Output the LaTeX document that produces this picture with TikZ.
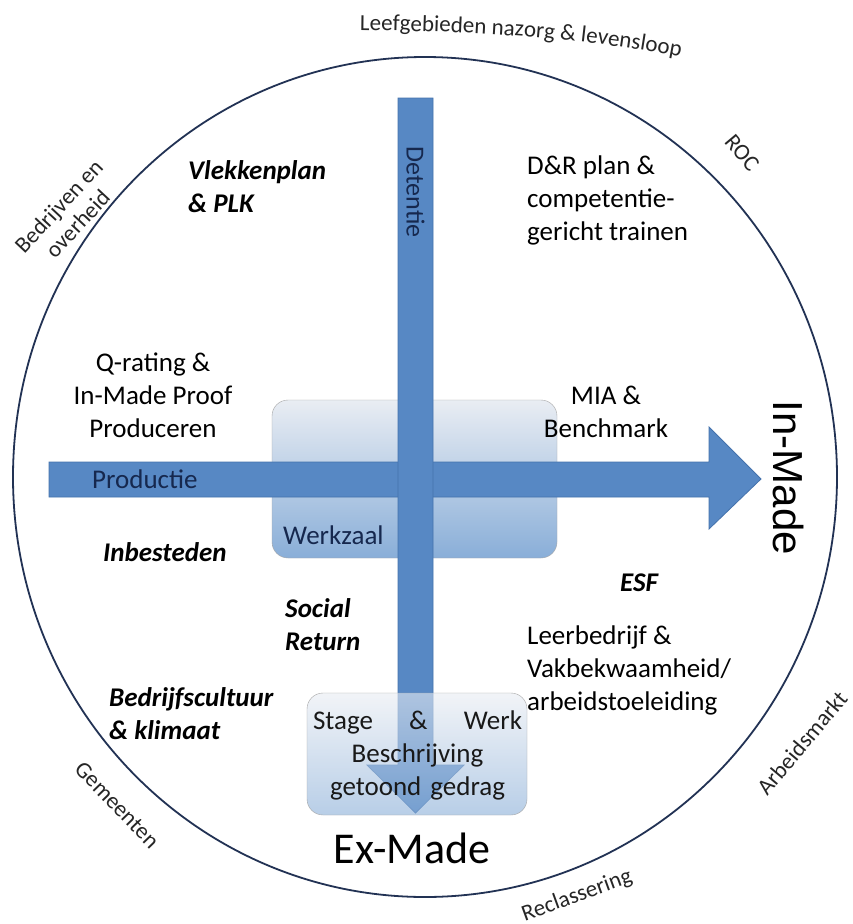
\documentclass[tikz,border=0pt]{standalone}
\usepackage{fontspec}
\setmainfont{Carlito}
\newfontfamily\madefont{Liberation Sans}
\usetikzlibrary{decorations.text}
\definecolor{arrowblue}{RGB}{87,136,196}
\definecolor{arrowline}{RGB}{68,114,172}
\definecolor{ringline}{RGB}{34,50,84}
\definecolor{inktext}{RGB}{22,40,78}
\definecolor{paneltop}{RGB}{233,237,243}
\definecolor{panelbottom}{RGB}{137,174,216}
\begin{document}
\begin{tikzpicture}[x=1pt, y=-1pt,
  txt/.style={font=\fontsize{27}{33}\selectfont, inner sep=0pt},
  key/.style={font=\fontsize{27}{33}\selectfont\bfseries\itshape, inner sep=0pt},
  ringlabel/.style={font=\fontsize{23}{26}\selectfont, inner sep=0pt, text=black!85},
  panel/.style={draw=black!35, rounded corners=16pt, top color=paneltop, bottom color=panelbottom},
  blockarrow/.style={fill=arrowblue, draw=arrowline, line width=0.8pt}]
\useasboundingbox (0,0) rectangle (852,924);
\fill[white] (0,0) rectangle (852,924);
\draw[ringline, line width=1.8pt] (425,477) ellipse [x radius=412pt, y radius=420pt];
\path[panel] (272,400) rectangle (557,558);
\draw[blockarrow] (49,462) -- (709,462) -- (709,427) -- (761,479) -- (709,529) -- (709,497) -- (49,497) -- cycle;
\draw[blockarrow] (398,98) -- (433,98) -- (433,765) -- (464,765) -- (415.5,813) -- (367,765) -- (398,765) -- cycle;
\path[panel, fill opacity=0.6] (307,693) rectangle (527,815);
\node[txt, align=center] (qrating) at (153,395) {Q-rating \&\\In-Made Proof\\Produceren};
\node[txt, align=center] (mia) at (606,412) {MIA \&\\Benchmark};
\node[key, align=left, anchor=west] (vlekken) at (188,187) {Vlekkenplan\\\& PLK};
\node[txt, align=left, anchor=west] (dr) at (527,200) {D\&R plan \&\\competentie-\\gericht trainen};
\node[txt, text=inktext, anchor=west] (productie) at (92,479) {Productie};
\node[txt, text=inktext, anchor=west] (werkzaal) at (283,535) {Werkzaal};
\node[key, anchor=west] (inbesteden) at (103,552) {Inbesteden};
\node[key, anchor=west] (esf) at (620,583) {ESF};
\node[key, align=left, anchor=west] (social) at (285,625) {Social\\Return};
\node[txt, align=left, anchor=west] (leer) at (527,670) {Leerbedrijf \&\\Vakbekwaamheid/\\arbeidstoeleiding};
\node[key, align=left, anchor=west] (cultuur) at (109,714) {Bedrijfscultuur\\\& klimaat};
\node[txt, text=black!90, text width=209pt, align=center] (stage) at (417.5,755) {Stage\hfill\&\hfill Werk\\Beschrijving\\getoond gedrag};
\node[font=\fontsize{44}{50}\selectfont, inner sep=0pt] (exmade) at (412,848) {Ex-Made};
\node[font=\madefont\fontsize{42}{48}\selectfont, rotate=-90, inner sep=0pt] (inmade) at (789,478) {In-Made};
\node[font=\fontsize{26}{30}\selectfont, text=inktext, rotate=-90, inner sep=0pt] (detentie) at (415.5,192) {Detentie};
\node[ringlabel, rotate=-50] (roc) at (742,153) {ROC};
\node[ringlabel, rotate=47, align=center] (bedrijven) at (68,215) {Bedrijven en\\overheid};
\node[ringlabel, rotate=-46] (gemeenten) at (117,805) {Gemeenten};
\node[ringlabel, rotate=20] (reclassering) at (577,896) {Reclassering};
\node[ringlabel, rotate=50] (arbeidsmarkt) at (802,743) {Arbeidsmarkt};
\path[decorate, decoration={text along path, text align=center, text={|\fontsize{23}{26}\selectfont\color{black!85}|Leefgebieden nazorg {\&} levensloop}}] (346,30) .. controls (460,31) and (580,36) .. (694,60);
\end{tikzpicture}
\end{document}
